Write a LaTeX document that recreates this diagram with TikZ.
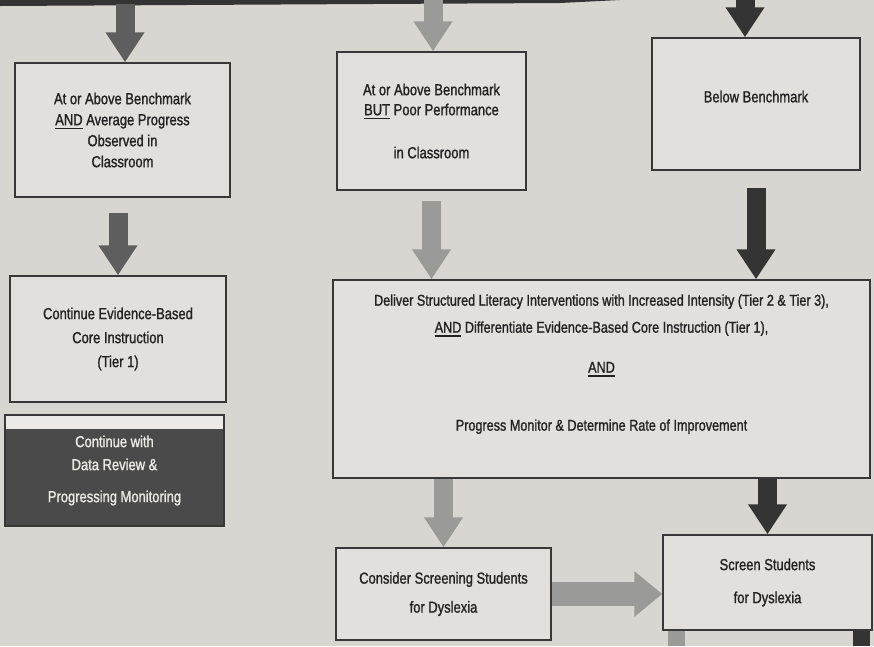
\documentclass[tikz,border=0pt]{standalone}
\usepackage{fontspec}
\setmainfont{Liberation Sans}[FakeStretch=0.81,FakeBold=1.2]
\usetikzlibrary{arrows.meta,calc}
\definecolor{pagebg}{HTML}{D8D6D1}
\definecolor{boxfill}{HTML}{E2E0DC}
\definecolor{boxline}{HTML}{383838}
\definecolor{ink}{HTML}{222222}
\definecolor{arrdark}{HTML}{343434}
\definecolor{arrmid}{HTML}{5E5E5E}
\definecolor{arrlight}{HTML}{9A9A98}
\definecolor{darkfill}{HTML}{4A4A4A}
\definecolor{strip}{HTML}{ECEAE6}
% underlined keyword with a gap below
\newcommand{\undr}[1]{\leavevmode\vtop{\hbox{#1}\kern2.5pt\hrule height 1.6pt}}
\begin{document}
\begin{tikzpicture}[x=1pt,y=-1pt,
    box/.style={draw=boxline, line width=1.5pt, fill=boxfill, text=ink, align=center,
      inner sep=0pt, font=\fontsize{16}{21}\selectfont},
    blk/.style={line width=19pt, -{Triangle[length=30pt,width=37pt]}}]
  \fill[pagebg] (0,0) rectangle (874,646);
  \useasboundingbox (0,0) rectangle (874,646);
  \fill[arrdark] (0,0) -- (620,0) -- (560,3) -- (0,6) -- cycle;

  % boxes
  \node[box, minimum width=215pt, minimum height=134pt] (above) at (122.5,130)
    {At or Above Benchmark\\\undr{AND} Average Progress\\Observed in\\Classroom};
  \node[box, minimum width=189pt, minimum height=138pt, font=\fontsize{16}{20}\selectfont] (poor) at (431.5,121)
    {At or Above Benchmark\\\undr{BUT} Poor Performance\\[23pt]in Classroom};
  \node[box, minimum width=208pt, minimum height=132pt] (below) at (756,104) {Below Benchmark\\[-6pt]~};
  \node[box, minimum width=216pt, minimum height=126pt, font=\fontsize{16}{24}\selectfont] (core) at (118,339)
    {Continue Evidence-Based\\Core Instruction\\(Tier 1)};
  \node[box, fill=darkfill, text=strip, minimum width=219pt, minimum height=111pt,
    font=\fontsize{16}{23}\selectfont] (review) at (114.5,470.5)
    {Continue with\\Data Review \&\\[9pt]Progressing Monitoring};
  \fill[strip] ($(review.north west)+(2,2)$) rectangle ($(review.north east)+(-2,15)$);
  \node[box, minimum width=537pt, minimum height=198pt, font=\fontsize{15.6}{27}\selectfont] (deliver) at (601.5,379)
    {Deliver Structured Literacy Interventions with Increased Intensity (Tier 2 \& Tier 3),\\
     \undr{AND} Differentiate Evidence-Based Core Instruction (Tier 1),\\[13pt]
     \undr{AND}\\[31pt]
     Progress Monitor \& Determine Rate of Improvement\\[6pt]~};
  \node[box, minimum width=215pt, minimum height=92pt, font=\fontsize{16}{29}\selectfont] (consider) at (443.5,594)
    {Consider Screening Students\\for Dyslexia};
  \node[box, minimum width=209pt, minimum height=95pt, font=\fontsize{16}{33}\selectfont] (screen) at (767.5,582.5)
    {Screen Students\\for Dyslexia};

  % arrows
  \coordinate (inA) at (125,4);
  \coordinate (inB) at (433,0);
  \coordinate (inC) at (745,0);
  \coordinate (outL) at (676,646);
  \coordinate (outR) at (861,646);
  \draw[blk, arrmid] (inA) -- (inA |- above.north);
  \draw[blk, arrlight] (inB) -- (inB |- poor.north);
  \draw[blk, arrdark] (inC) -- (inC |- below.north);
  \draw[blk, arrmid, shorten <=15pt] (core.north |- above.south) -- (core.north);
  \draw[blk, arrlight, shorten <=10pt] (poor.south) -- (poor.south |- deliver.north);
  \draw[blk, arrdark, shorten <=17pt] (below.south) -- (below.south |- deliver.north);
  \draw[blk, arrlight] (consider.north |- deliver.south) -- (consider.north);
  \draw[blk, arrdark] (screen.north |- deliver.south) -- (screen.north);
  \draw[blk, arrlight, line width=24pt, -{Triangle[length=28pt,width=44pt]}] (consider.east) -- (consider.east -| screen.west);
  \draw[arrlight, line width=17pt] (outL |- screen.south) -- (outL);
  \draw[arrdark, line width=17pt] (outR |- screen.south) -- (outR);
\end{tikzpicture}
\end{document}
